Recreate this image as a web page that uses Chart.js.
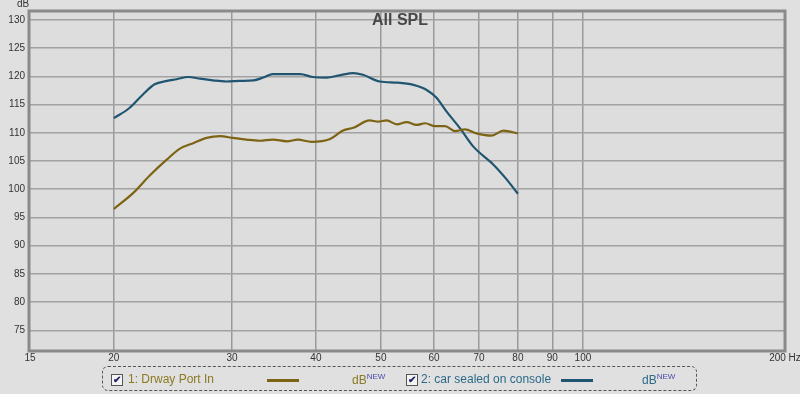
<!DOCTYPE html>
<html>
<head>
<meta charset="utf-8">
<script src="https://cdn.jsdelivr.net/npm/chart.js@4"></script>
<style>
  html, body { margin:0; padding:0; background:#e0e0e0; }
  #wrap { position:relative; width:800px; height:394px; font-family:Arial, "Liberation Sans", sans-serif; }
  #c { position:absolute; left:0; top:0; }
  .ov { position:absolute; white-space:nowrap; }
  #title { left:0; width:800px; top:11px; text-align:center; font-weight:bold; font-size:16px; color:#474747; }
  #ylab { left:17px; top:-2px; font-size:10px; color:#333; }
  #legend { left:102px; top:366px; width:595px; height:25px; border:1px dashed #555; border-radius:6px; box-sizing:border-box; }
  .cb { position:absolute; top:7px; width:10px; height:10px; border:1px solid #555; background:#f4f4f4; font-size:10px; line-height:10px; text-align:center; color:#22226a; font-weight:bold; }
  .lt { position:absolute; top:5px; font-size:12px; }
  .ls { position:absolute; top:12px; height:2.5px; }
  .db { position:absolute; top:5px; font-size:12px; }
  .db sup { font-size:8px; color:#4a4ab0; vertical-align:5px; }
</style>
</head>
<body>
<div id="wrap">
<canvas id="c" width="800" height="394"></canvas>
<div class="ov" id="title">All SPL</div>
<div class="ov" id="ylab">dB</div>
<div class="ov" id="legend">
  <div class="cb" style="left:8px;">&#10004;</div>
  <div class="lt" style="left:25px;color:#8a7a22;">1: Drway Port In</div>
  <div class="ls" style="left:164px;width:32px;background:#7d6414;"></div>
  <div class="db" style="left:249px;color:#8a7a22;">dB<sup>NEW</sup></div>
  <div class="cb" style="left:303px;">&#10004;</div>
  <div class="lt" style="left:318px;color:#2a6a88;">2: car sealed on console</div>
  <div class="ls" style="left:458px;width:32px;background:#1f5570;"></div>
  <div class="db" style="left:539px;color:#2a6a88;">dB<sup>NEW</sup></div>
</div>
</div>
<script>
// Series 1: Drway Port In
const portFreq = [20.0, 21.4, 22.6, 24.0, 25.1, 26.3, 27.5, 28.8, 30.1, 31.5, 33.0, 34.5, 36.2, 37.6, 39.4, 42.0, 43.9, 45.5, 48.1, 49.5, 51.0, 52.8, 54.6, 56.5, 58.2, 60.2, 62.3, 64.5, 66.7, 69.4, 73.1, 76.1, 80.0];
const portDb   = [96.5, 99.4, 102.4, 105.3, 107.2, 108.2, 109.1, 109.4, 109.1, 108.8, 108.6, 108.8, 108.5, 108.8, 108.4, 108.9, 110.4, 110.9, 112.2, 112.0, 112.2, 111.5, 111.9, 111.4, 111.7, 111.2, 111.2, 110.3, 110.6, 109.9, 109.5, 110.4, 109.9];
// Series 2: car sealed on console
const carFreq = [20.0, 21.1, 22.1, 23.0, 24.0, 24.8, 25.8, 26.9, 28.1, 29.4, 30.8, 32.3, 33.4, 34.5, 36.2, 37.9, 39.6, 41.5, 43.4, 45.5, 47.0, 49.8, 52.8, 55.9, 58.5, 60.5, 62.6, 65.6, 68.6, 73.5, 76.9, 80.0];
const carDb   = [112.6, 114.4, 116.8, 118.6, 119.2, 119.5, 119.9, 119.6, 119.3, 119.1, 119.2, 119.3, 119.8, 120.4, 120.4, 120.4, 119.9, 119.8, 120.2, 120.6, 120.3, 119.1, 118.9, 118.5, 117.6, 116.2, 113.8, 110.8, 107.6, 104.4, 101.8, 99.2];
// Axis ticks
const xTicks = [15, 20, 30, 40, 50, 60, 70, 80, 90, 100, 200];
const xTickLabels = ["15", "20", "30", "40", "50", "60", "70", "80", "90", "100", "200 Hz"];
const yTicks = [75, 80, 85, 90, 95, 100, 105, 110, 115, 120, 125, 130];

const toPts = (xs, ys) => xs.map((x, i) => ({x: x, y: ys[i]}));

const frame = {
  id: 'frame',
  beforeDraw(chart) {
    const {ctx, chartArea: a} = chart;
    ctx.save();
    ctx.fillStyle = '#dddddd';
    ctx.fillRect(a.left, a.top, a.right - a.left, a.bottom - a.top);
    ctx.restore();
  },
  afterDatasetsDraw(chart) {
    const {ctx, chartArea: a} = chart;
    ctx.save();
    ctx.strokeStyle = '#8a8a8a';
    ctx.lineWidth = 3;
    ctx.strokeRect(a.left - 1, a.top, a.right - a.left + 1, a.bottom - a.top + 1);
    ctx.restore();
  }
};

new Chart(document.getElementById('c'), {
  type: 'scatter',
  data: {
    datasets: [
      { label: '1: Drway Port In', data: toPts(portFreq, portDb), showLine: true, borderColor: '#7d6414', borderWidth: 2.2, pointRadius: 0, tension: 0.4, cubicInterpolationMode: 'monotone' },
      { label: '2: car sealed on console', data: toPts(carFreq, carDb), showLine: true, borderColor: '#1f5570', borderWidth: 2.2, pointRadius: 0, tension: 0.4, cubicInterpolationMode: 'monotone' }
    ]
  },
  options: {
    responsive: false,
    animation: false,
    layout: { padding: { left: 0, right: 15, top: 10, bottom: 0 } },
    plugins: { legend: { display: false }, title: { display: false }, tooltip: { enabled: false } },
    scales: {
      x: {
        type: 'logarithmic', min: 15, max: 200,
        afterBuildTicks: s => { s.ticks = xTicks.map(v => ({value: v})); },
        afterFit: s => { s.height = 44; s.paddingRight = 0; s.paddingLeft = 0; },
        ticks: {
          autoSkip: false, maxRotation: 0, padding: 2,
          color: '#333', font: { family: 'Arial, "Liberation Sans"', size: 10 },
          callback: (v) => { const i = xTicks.indexOf(v); return i >= 0 ? xTickLabels[i] : ''; }
        },
        grid: {
          color: (c) => (c.tick && (c.tick.value === 15 || c.tick.value === 200)) ? 'rgba(0,0,0,0)' : '#9a9a9a',
          lineWidth: 1.5, drawTicks: false
        },
        border: { display: false }
      },
      y: {
        min: 71.5, max: 131.6,
        afterBuildTicks: s => { s.ticks = yTicks.map(v => ({value: v})); },
        afterFit: s => { s.width = 30; },
        ticks: {
          padding: 5, color: '#333', font: { family: 'Arial, "Liberation Sans"', size: 10 }
        },
        grid: { color: '#a2a2a2', lineWidth: 1.5, drawTicks: false },
        border: { display: false }
      }
    }
  },
  plugins: [frame]
});
</script>
</body>
</html>
